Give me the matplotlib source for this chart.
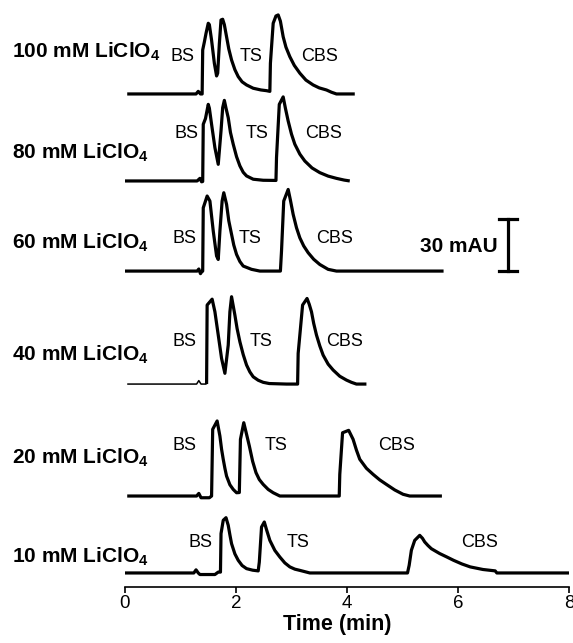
import matplotlib
matplotlib.use('Agg')  # no display
import matplotlib.pyplot as plt

plt.rcParams['font.family'] = ['Liberation Sans', 'DejaVu Sans']
plt.rcParams['mathtext.fontset'] = 'custom'
plt.rcParams['mathtext.rm'] = 'Liberation Sans'
plt.rcParams['mathtext.bf'] = 'Liberation Sans:bold'

# electrolyte concentrations, top to bottom
conc_labels = ['100 mM LiClO$_{\\mathbf{4}}$', '80 mM LiClO$_{\\mathbf{4}}$',
               '60 mM LiClO$_{\\mathbf{4}}$', '40 mM LiClO$_{\\mathbf{4}}$',
               '20 mM LiClO$_{\\mathbf{4}}$', '10 mM LiClO$_{\\mathbf{4}}$']
peak_names = ['BS', 'TS', 'CBS']

# traces: time (min), absorbance above own baseline (mAU)
t_100 = [0.04, 1.28, 1.32, 1.36, 1.39, 1.40, 1.43, 1.46, 1.50, 1.52, 1.56, 1.61, 1.65, 1.67,
         1.70, 1.73, 1.76, 1.79, 1.83, 1.87, 1.92, 1.98, 2.04, 2.11, 2.19, 2.31, 2.45, 2.55,
         2.61, 2.62, 2.67, 2.72, 2.76, 2.80, 2.85, 2.90, 2.97, 3.05, 3.15, 3.26, 3.39, 3.50,
         3.63, 3.72, 3.81, 4.14]
a_100 = [0, 0, 1.5, 0, 0, 25.4, 30, 35, 40.8, 40, 31, 17.7, 10.4, 12,
         29, 42.7, 43.1, 40, 33, 26, 19.6, 14, 10, 7, 5.2, 3.3, 2.3, 1.9,
         1.5, 17.7, 40.8, 45, 45.6, 42, 33, 27, 21.5, 16.5, 12, 8, 5.2, 3.5,
         2.3, 1.0, 0, 0]

t_80 = [0.0, 1.30, 1.35, 1.38, 1.40, 1.41, 1.45, 1.50, 1.52, 1.56, 1.62, 1.68, 1.73, 1.76,
        1.79, 1.82, 1.86, 1.90, 1.95, 2.01, 2.07, 2.13, 2.19, 2.31, 2.49, 2.72, 2.73, 2.78,
        2.85, 2.89, 2.94, 3.00, 3.06, 3.15, 3.24, 3.37, 3.51, 3.66, 3.81, 3.95, 4.05]
a_80 = [0, 0, 1.5, -0.5, -0.3, 32.7, 36, 44.2, 42, 32.7, 19.2, 9.6, 28.9, 42.3,
        46.5, 42, 36.5, 28, 21.2, 14, 8.7, 5, 2.9, 1.0, 0.4, 0.3, 13.5, 44.2,
        48.5, 42, 34.6, 27, 21.2, 15.5, 11.5, 7.5, 4.8, 2.8, 1.5, 0.5, 0]

t_60 = [0.0, 1.30, 1.33, 1.36, 1.39, 1.40, 1.41, 1.48, 1.53, 1.59, 1.65, 1.68, 1.71, 1.75,
        1.78, 1.83, 1.87, 1.92, 1.96, 2.01, 2.07, 2.13, 2.28, 2.43, 2.80, 2.82, 2.86, 2.94,
        2.98, 3.03, 3.09, 3.15, 3.22, 3.30, 3.40, 3.51, 3.66, 3.81, 5.74]
a_60 = [0, 0, 1.2, -1.5, 0, 0, 36.5, 43.3, 40.4, 23.1, 8.7, 6.7, 23.1, 40.4,
        45.2, 38.5, 29, 21.2, 15, 9.6, 5.5, 2.9, 1.0, 0, 0, 11.5, 40.4, 47.1,
        41, 32.7, 25, 19.2, 14.5, 10.6, 6.8, 3.8, 1.0, 0, 0]

t_40 = [0.04, 1.29, 1.33, 1.37, 1.47, 1.48, 1.57, 1.62, 1.68, 1.74, 1.80, 1.86, 1.89, 1.92,
        1.98, 2.02, 2.07, 2.13, 2.19, 2.25, 2.31, 2.40, 2.49, 2.60, 2.91, 3.11, 3.12, 3.20,
        3.28, 3.32, 3.36, 3.40, 3.45, 3.51, 3.57, 3.66, 3.75, 3.87, 3.99, 4.08, 4.17, 4.35]
a_40 = [0, 0, 2.0, 0, 0, 45.6, 49, 41.7, 28.3, 14.8, 6.2, 22.5, 41.7, 50.4,
        39.8, 32, 24.4, 17, 11, 7, 4.2, 2.2, 1.0, 0.3, 0, 0, 17.7, 45.6,
        49.4, 46, 41.7, 35, 28.3, 22, 16.7, 11.5, 8.1, 4.5, 2.3, 1.0, 0, 0]

t_20 = [0.04, 1.29, 1.33, 1.37, 1.52, 1.56, 1.58, 1.66, 1.71, 1.74, 1.77, 1.80, 1.83, 1.89,
        1.95, 2.01, 2.06, 2.08, 2.14, 2.18, 2.24, 2.30, 2.36, 2.42, 2.49, 2.58, 2.67, 2.79,
        3.86, 3.87, 3.92, 4.03, 4.11, 4.17, 4.23, 4.35, 4.47, 4.59, 4.71, 4.86, 5.01, 5.13,
        5.71]
a_20 = [0, 0, 1.5, -1.0, -1.0, 0, 38.5, 43.3, 34.6, 27, 21.2, 16, 11.5, 6.5,
        3.8, 1.9, 2.0, 32.7, 42.3, 37, 28.9, 20, 13.5, 9.5, 6.7, 3.8, 1.9, 0,
        0, 12.5, 36.5, 37.9, 32.7, 26.5, 21.2, 16, 12.5, 9.3, 6.7, 3.5, 1.0, 0,
        0]

t_10 = [0.0, 1.24, 1.28, 1.32, 1.35, 1.62, 1.68, 1.72, 1.73, 1.77, 1.82, 1.86, 1.89, 1.92,
        1.98, 2.04, 2.11, 2.19, 2.30, 2.40, 2.42, 2.46, 2.51, 2.55, 2.61, 2.70, 2.79, 2.88,
        2.97, 3.06, 3.15, 3.33, 5.09, 5.12, 5.16, 5.22, 5.31, 5.36, 5.40, 5.46, 5.52, 5.60,
        5.67, 5.80, 5.92, 6.07, 6.22, 6.45, 6.67, 6.70, 8.0]
a_10 = [0, 0, 1.8, 0, -0.9, -0.9, 0.5, 0.5, 22.7, 30.4, 31.9, 27.5, 22, 16.9,
        11, 7.3, 4.3, 2.5, 1.6, 1.2, 6.3, 26.5, 29.4, 25, 18.8, 13, 9.2, 5.8,
        3.5, 2.2, 1.5, 0, 0, 4.4, 13.1, 18.8, 21.7, 20, 17.9, 15.8, 14.0, 12.5,
        11.2, 9.2, 7.3, 5.2, 3.5, 2.0, 1.2, 0, 0]

times = [t_100, t_80, t_60, t_40, t_20, t_10]
signals = [a_100, a_80, a_60, a_40, a_20, a_10]

# peak label positions: time (min) and height above baseline (mAU)
label_t = [[1.04, 2.27, 3.50], [1.10, 2.38, 3.58], [1.08, 2.25, 3.77],
           [1.08, 2.45, 3.95], [1.08, 2.73, 4.89], [1.36, 3.11, 6.38]]
label_h = [21.4, 27.4, 19.0, 24.8, 29.4, 17.3]

# layout: vertical stacking of the traces (mAU) and label baselines (px)
offsets = [284.5, 234.3, 182.3, 117.1, 52.5, 8.1]
conc_label_px = [57, 158, 248, 360, 463, 562]
thin_until = [None, None, None, 1.47, None, None]

W, H = 573, 643
px_per_mau = 1.733
fig = plt.figure(figsize=(W / 100, H / 100), dpi=100)
ax = fig.add_axes([125 / W, 56 / H, 444 / W, 587 / H])
ax.set_xlim(0, 8)
ax.set_ylim(0, 587 / px_per_mau)

line_kw = dict(color='black', solid_joinstyle='round', solid_capstyle='butt')
for i in range(len(times)):
    t = times[i]
    y = [offsets[i] + v for v in signals[i]]
    if thin_until[i] is not None:
        k = [j for j, tt in enumerate(t) if tt <= thin_until[i]][-1]
        ax.plot(t[:k + 1], y[:k + 1], lw=1.1, **line_kw)
        ax.plot(t[k:], y[k:], lw=2.3, **line_kw)
    else:
        ax.plot(t, y, lw=2.3, **line_kw)
    for name, lt in zip(peak_names, label_t[i]):
        ax.text(lt, offsets[i] + label_h[i], name, fontsize=13, ha='center', va='center')
    fig.text(12 / W, 1 - conc_label_px[i] / H, conc_labels[i], fontsize=15,
             fontweight='bold', ha='left', va='baseline')

# 30 mAU scale bar, sitting on the 60 mM baseline
bar_t = 6.9
ax.plot([bar_t, bar_t], [offsets[2], offsets[2] + 30], color='black', lw=2.3)
ax.plot([bar_t - 0.17, bar_t + 0.17], [offsets[2], offsets[2]], color='black', lw=2.3)
ax.plot([bar_t - 0.17, bar_t + 0.17], [offsets[2] + 30, offsets[2] + 30], color='black', lw=2.3)
ax.text(6.72, offsets[2] + 14, '30 mAU', fontsize=15, fontweight='bold', ha='right', va='center')

for s in ['left', 'right', 'top']:
    ax.spines[s].set_visible(False)
ax.spines['bottom'].set_linewidth(1.2)
ax.set_yticks([])
ax.set_xticks([0, 2, 4, 6, 8])
ax.tick_params(axis='x', direction='out', length=4, width=1.2, labelsize=13.5, pad=2)
ax.set_xlabel('Time (min)', fontsize=15.5, fontweight='bold')
ax.xaxis.set_label_coords(0.478, -0.046)

fig.savefig('out.png', dpi=100)
